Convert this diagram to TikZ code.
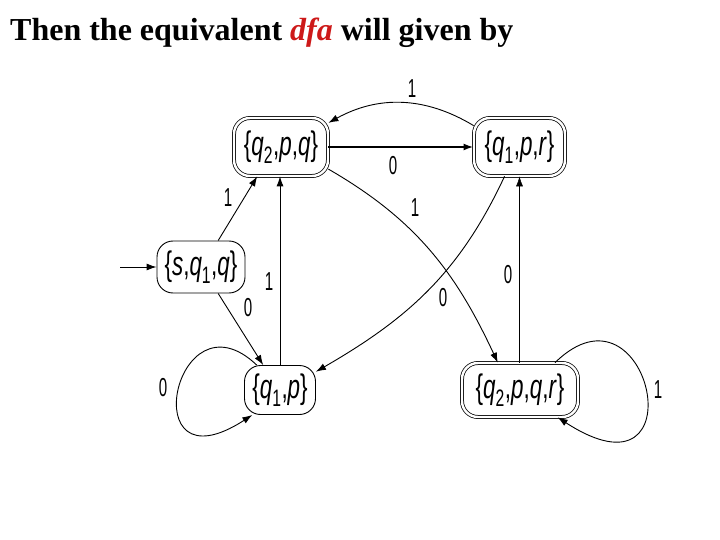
\documentclass[tikz,border=0pt]{standalone}
\usepackage{fontspec}
\setmainfont{Liberation Serif}
\newfontfamily\nodefont[FakeStretch=0.66]{Liberation Sans}
\newfontfamily\labfont[FakeStretch=0.58]{Liberation Sans}
\usetikzlibrary{arrows.meta}
\definecolor{dfared}{RGB}{205,25,25}
\begin{document}
\begin{tikzpicture}[x=1pt,y=-1pt,
  st/.style={draw, line width=0.9pt, rounded corners=16pt, inner sep=0pt,
    font=\nodefont\fontsize{34}{34}\selectfont},
  acc/.style={st, double, double distance=2.4pt, line width=0.75pt},
  ed/.style={-{Latex[length=10pt,width=7pt]}, line width=0.9pt},
  lab/.style={font=\labfont\fontsize{26}{26}\selectfont, inner sep=0pt}]
\useasboundingbox[fill=white] (0,0) rectangle (720,540);
\node[anchor=base west, inner sep=0pt, font=\fontsize{32}{32}\selectfont\bfseries] (title) at (10,41)
  {Then the equivalent \textcolor{dfared}{\textit{dfa}} will given by};
% states
\node[acc, minimum width=94pt, minimum height=58pt] (A) at (281,147) {\{\textit{q}\textsubscript{2},\textit{p},\textit{q}\}};
\node[acc, minimum width=91pt, minimum height=58pt] (B) at (519.5,147) {\{\textit{q}\textsubscript{1},\textit{p},\textit{r}\}};
\node[acc, minimum width=116pt, minimum height=54pt] (D) at (520,390) {\{\textit{q}\textsubscript{2},\textit{p},\textit{q},\textit{r}\}};
\node[st, minimum width=88pt, minimum height=52pt] (S) at (201,267) {\{\textit{s},\textit{q}\textsubscript{1},\textit{q}\}};
\node[st, minimum width=71pt, minimum height=49pt] (C) at (280,390) {\{\textit{q}\textsubscript{1},\textit{p}\}};
% edges
\coordinate (s0) at (120,267);
\draw[ed] (s0) -- (S.west);
\draw[ed] (B.155) to[bend right=30] (A.27);
\draw[ed, line width=2.2pt] (A.east) -- (B.west);
\draw[ed] (A.-25) to[out=-30,in=115] (D.129);
\draw[ed] (B.243) to[out=-115,in=30] (C.27);
\draw[ed, line width=0.5pt] (D.north -| B.south) -- (B.south);
\draw[ed] (S.57) -- (A.231);
\draw[ed] (S.303) -- (C.124);
\draw[ed] (C.north) -- (C.north |- A.south);
\draw[ed] (C.133) .. controls +(-82,-78) and +(-120,78) .. (C.222);
\draw[ed] (D.38) .. controls +(95,-93) and +(143,93) .. (D.-36);
% labels
\node[lab] (l1) at (412,89) {1};
\node[lab] (l2) at (393,166) {0};
\node[lab] (l3) at (415,208) {1};
\node[lab] (l4) at (443,298) {0};
\node[lab] (l5) at (508,275) {0};
\node[lab] (l6) at (228,198) {1};
\node[lab] (l7) at (248,308) {0};
\node[lab] (l8) at (269,282) {1};
\node[lab] (l9) at (163,388) {0};
\node[lab] (l10) at (658,390) {1};
\end{tikzpicture}
\end{document}
